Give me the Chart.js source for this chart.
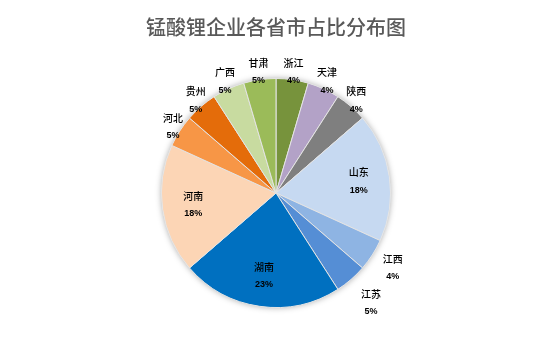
<!DOCTYPE html>
<html>
<head>
<meta charset="utf-8">
<script src="https://cdn.jsdelivr.net/npm/chart.js@4/dist/chart.umd.min.js"></script>
<style>
html,body{margin:0;padding:0;background:#fff;}
#wrap{width:554px;height:344px;position:relative;}
</style>
</head>
<body>
<div id="wrap"><canvas id="c" width="554" height="344"></canvas></div>
<script>
const titleText = '锰酸锂企业各省市占比分布图';
const categories = ['浙江','天津','陕西','山东','江西','江苏','湖南','河南','河北','贵州','广西','甘肃'];
const counts = [1,1,1,4,1,1,5,4,1,1,1,1];
const pctLabels = ['4%','4%','4%','18%','4%','5%','23%','18%','5%','5%','5%','5%'];
const sliceColors = ['#77933C','#B3A2C7','#7F7F7F','#C6D9F1','#8EB4E3','#558ED5','#0070C0','#FCD5B5','#F79646','#E46C0A','#C8DBA0','#9BBB59'];

const shadowPlugin = {
  id: 'pieShadow',
  beforeDatasetsDraw(chart) {
    const meta = chart.getDatasetMeta(0);
    if (!meta.data.length) return;
    const a = meta.data[0].getProps(['x','y','outerRadius'], true);
    const ctx = chart.ctx;
    ctx.save();
    ctx.shadowColor = 'rgba(0,0,0,0.35)';
    ctx.shadowBlur = 6;
    ctx.shadowOffsetX = 0;
    ctx.shadowOffsetY = 0;
    ctx.fillStyle = '#ffffff';
    ctx.beginPath();
    ctx.arc(a.x, a.y, a.outerRadius, 0, Math.PI * 2);
    ctx.fill();
    ctx.restore();
  }
};

const labelPlugin = {
  id: 'sliceLabels',
  afterDatasetsDraw(chart) {
    const meta = chart.getDatasetMeta(0);
    const total = counts.reduce((s, v) => s + v, 0);
    const ctx = chart.ctx;
    ctx.save();
    ctx.fillStyle = '#000000';
    ctx.textAlign = 'center';
    ctx.textBaseline = 'middle';
    meta.data.forEach((arc, i) => {
      const p = arc.getProps(['x','y','startAngle','endAngle','outerRadius'], true);
      const mid = (p.startAngle + p.endAngle) / 2;
      const share = counts[i] / total;
      let r;
      if (share > 0.1) {
        r = p.outerRadius * 0.73;
      } else {
        r = p.outerRadius + 8 + 30 * Math.max(0, Math.sin(mid));
      }
      const lx = p.x + Math.cos(mid) * r;
      const ly = p.y + Math.sin(mid) * r;
      ctx.font = '500 10px "Noto Sans CJK SC", sans-serif';
      ctx.fillText(categories[i], lx, ly - 9);
      ctx.font = 'bold 9px "Liberation Sans", Arial, sans-serif';
      ctx.fillText(pctLabels[i], lx, ly + 9);
    });
    ctx.restore();
  }
};

new Chart(document.getElementById('c'), {
  type: 'pie',
  data: {
    labels: categories,
    datasets: [{
      data: counts,
      backgroundColor: sliceColors,
      borderColor: '#e4e4e4',
      borderWidth: 1
    }]
  },
  options: {
    responsive: false,
    animation: false,
    layout: { padding: { top: 0, bottom: 36, left: 0, right: 2 } },
    plugins: {
      legend: { display: false },
      tooltip: { enabled: false },
      title: {
        display: true,
        text: titleText,
        color: '#595959',
        font: { family: '"Noto Sans CJK SC", sans-serif', size: 20, weight: '500', lineHeight: 1.2 },
        padding: { top: 15, bottom: 39 }
      }
    }
  },
  plugins: [shadowPlugin, labelPlugin]
});
</script>
</body>
</html>
